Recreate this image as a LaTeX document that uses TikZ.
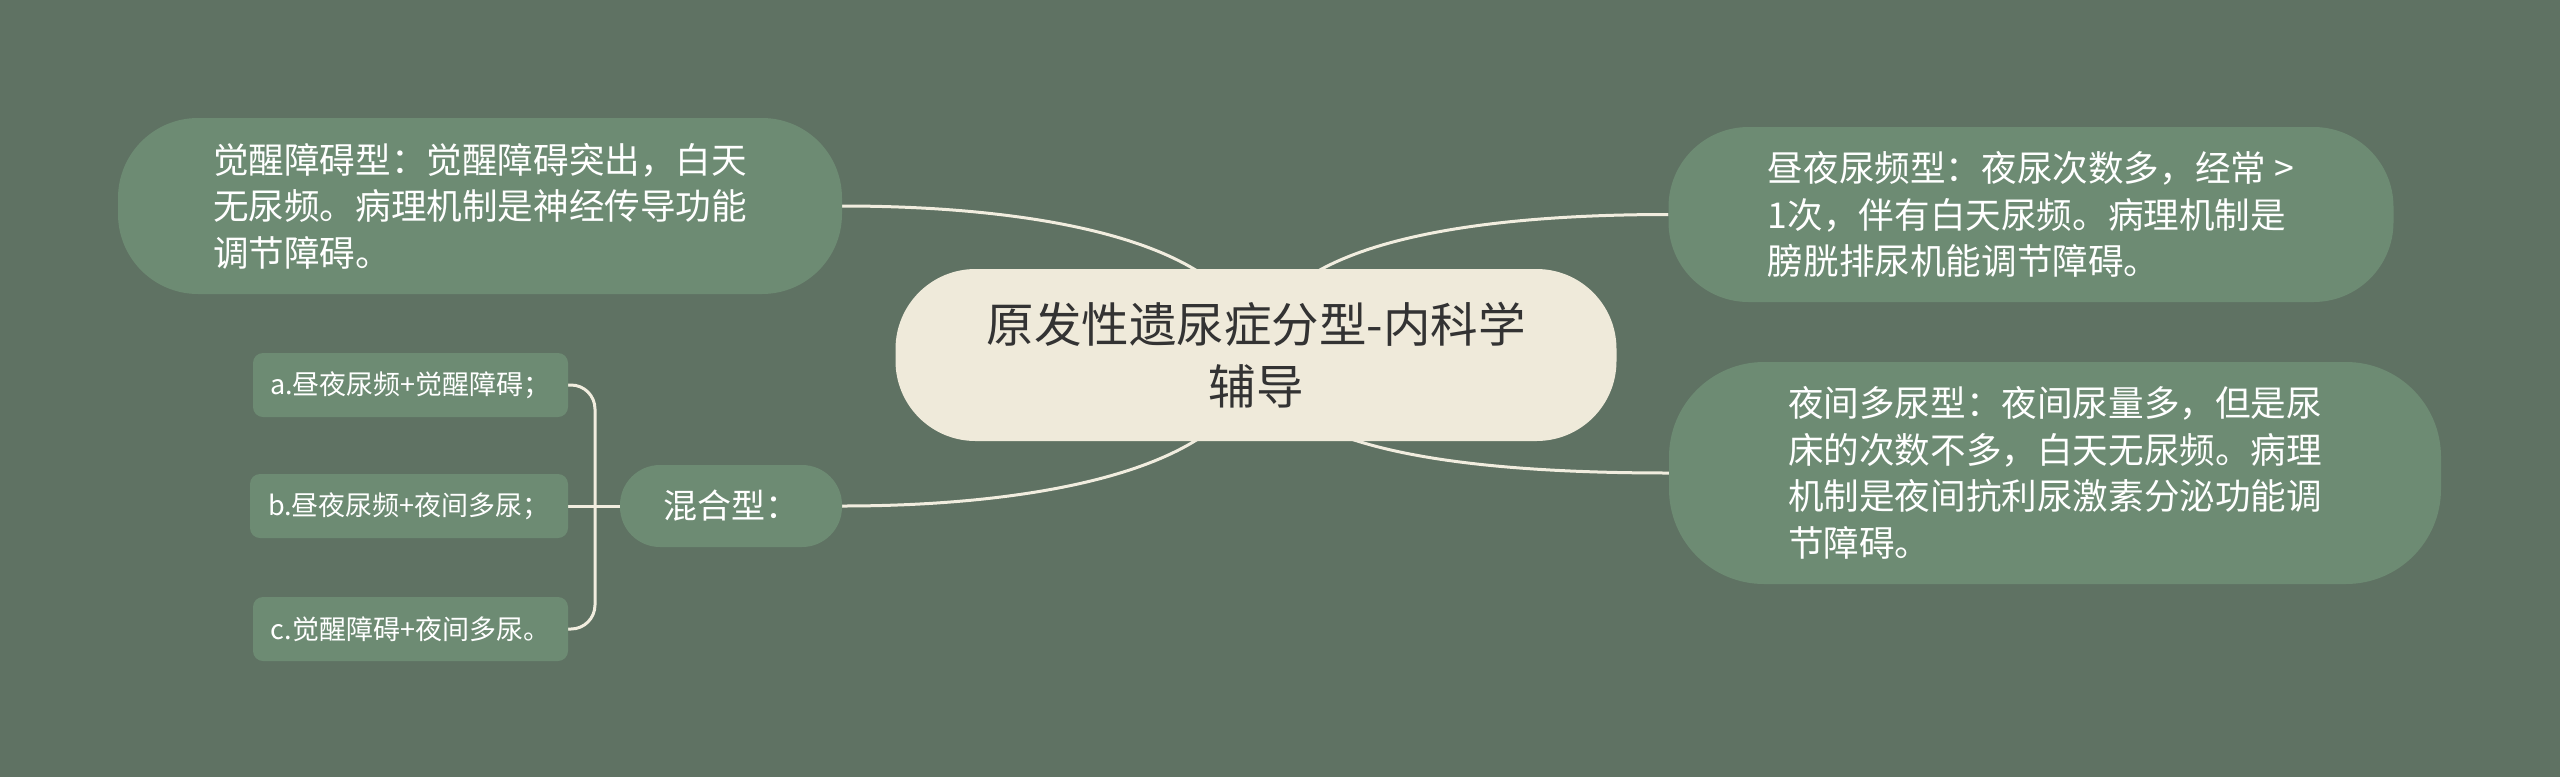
\documentclass[tikz,border=0pt]{standalone}
\usepackage{fontspec}
\setmainfont{Noto Sans CJK SC}
\usetikzlibrary{backgrounds}
\definecolor{bgc}{HTML}{5F7263}
\definecolor{boxfill}{HTML}{6D8B73}
\definecolor{rootfill}{HTML}{EFEADA}
\definecolor{roottext}{HTML}{333333}
\definecolor{linec}{HTML}{F1EDDF}
\begin{document}
\begin{tikzpicture}[x=1pt, y=-1pt,
    root/.style={rectangle, fill=rootfill, text=roottext, rounded corners=80pt, minimum width=721pt, minimum height=172pt, align=center, font=\fontsize{47.5}{62}\selectfont},
    topic/.style={rectangle, fill=boxfill, text=white, rounded corners=80pt, align=left, font=\fontsize{35.6}{46.5}\selectfont},
    item/.style={rectangle, fill=boxfill, text=white, rounded corners=10pt, minimum width=315pt, minimum height=64pt, font=\fontsize{27}{33}\selectfont},
    link/.style={draw=linec, line width=3pt}]
    \node [root] (root) at (1256,355) {原发性遗尿症分型-内科学\\辅导};
    \node [topic, minimum width=724pt, minimum height=176pt] (wake) at (480,206) {觉醒障碍型：觉醒障碍突出，白天\\无尿频。病理机制是神经传导功能\\调节障碍。};
    \node [topic, minimum width=725pt, minimum height=175pt] (freq) at (2031,214.5) {昼夜尿频型：夜尿次数多，经常 >\\1次，伴有白天尿频。病理机制是\\膀胱排尿机能调节障碍。};
    \node [topic, minimum width=772pt, minimum height=222pt, rounded corners=95pt] (night) at (2055,473) {夜间多尿型：夜间尿量多，但是尿\\床的次数不多，白天无尿频。病理\\机制是夜间抗利尿激素分泌功能调\\节障碍。};
    \node [topic, minimum width=222pt, minimum height=82pt, rounded corners=40pt, font=\fontsize{34}{40}\selectfont] (mix) at (731,506) {混合型：};
    \node [item] (mixa) at (410.5,385) {a.昼夜尿频+觉醒障碍；};
    \node [item, minimum width=318pt] (mixb) at (409,506) {b.昼夜尿频+夜间多尿；};
    \node [item] (mixc) at (410.5,629) {c.觉醒障碍+夜间多尿。};
    \coordinate (fork) at (595,506);

    \begin{pgfonlayer}{background}
    \fill[bgc] (0,0) rectangle (2560,777);
    \draw[link] (wake.east) .. controls +(208,0) and +(-8,-110) .. (root.center);
    \draw[link] (freq.west) .. controls +(-207,0) and +(8,-110) .. (root.center);
    \draw[link] (mix.east) .. controls +(208,0) and +(-8,110) .. (root.center);
    \draw[link] (night.west) .. controls +(-207,0) and +(12,95) .. (root.center);
    \draw[link, rounded corners=24pt] (mixa.east) -| (fork) |- (mixc.east);
    \draw[link] (mixb.east) -- (mix.west);
    \end{pgfonlayer}
\end{tikzpicture}
\end{document}
